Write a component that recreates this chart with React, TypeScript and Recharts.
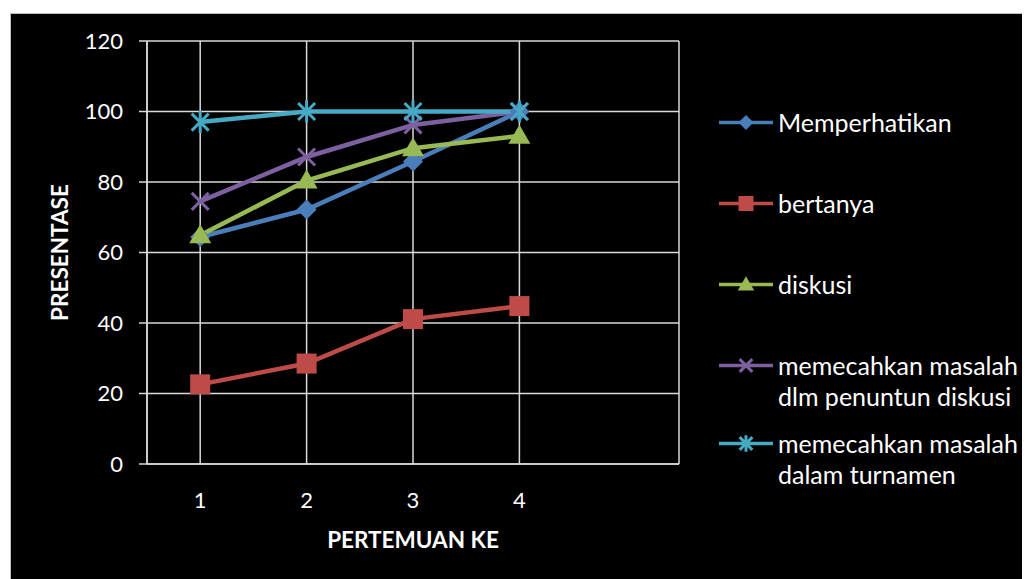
import React from "react";
import {
  LineChart,
  Line,
  XAxis,
  YAxis,
  CartesianGrid,
  Label,
} from "recharts";

// Data
const pertemuan = [1, 2, 3, 4];
const memperhatikan = [64.4, 72.2, 85.8, 100];
const bertanya = [22.6, 28.5, 41.1, 44.8];
const diskusi = [64.9, 80.4, 89.6, 93.1];
const memecahkanDiskusi = [74.5, 87.1, 96.2, 100];
const memecahkanTurnamen = [97, 100, 100, 100];
const yTicks = [0, 20, 40, 60, 80, 100, 120];

const series = [
  { key: "memperhatikan", name: ["Memperhatikan"], values: memperhatikan, color: "#4A7EBB", marker: "diamond" },
  { key: "bertanya", name: ["bertanya"], values: bertanya, color: "#BE4B48", marker: "square" },
  { key: "diskusi", name: ["diskusi"], values: diskusi, color: "#98B954", marker: "triangle" },
  { key: "memecahkanDiskusi", name: ["memecahkan masalah", "dlm penuntun diskusi"], values: memecahkanDiskusi, color: "#7D60A0", marker: "x" },
  { key: "memecahkanTurnamen", name: ["memecahkan masalah", "dalam turnamen"], values: memecahkanTurnamen, color: "#46AAC5", marker: "star" },
];

const data = pertemuan.map((p, i) => {
  const row: Record<string, number> = { x: p };
  series.forEach((s) => (row[s.key] = s.values[i]));
  return row;
});

const FONT = "Lato, 'Open Sans', sans-serif";
const GRID = "#d9d9d9";

function Marker({ cx, cy, type, color, size = 10 }: any) {
  const r = size;
  if (cx == null || cy == null) return null;
  switch (type) {
    case "diamond":
      return (
        <polygon
          points={`${cx},${cy - r} ${cx + r},${cy} ${cx},${cy + r} ${cx - r},${cy}`}
          fill={color}
        />
      );
    case "square":
      return <rect x={cx - r} y={cy - r} width={r * 2} height={r * 2} fill={color} />;
    case "triangle":
      return (
        <polygon
          points={`${cx},${cy - r * 1.1} ${cx + r * 1.1},${cy + r * 0.8} ${cx - r * 1.1},${cy + r * 0.8}`}
          fill={color}
        />
      );
    case "x":
      return (
        <g stroke={color} strokeWidth={3}>
          <line x1={cx - r * 0.85} y1={cy - r * 0.85} x2={cx + r * 0.85} y2={cy + r * 0.85} />
          <line x1={cx - r * 0.85} y1={cy + r * 0.85} x2={cx + r * 0.85} y2={cy - r * 0.85} />
        </g>
      );
    default:
      return (
        <g stroke={color} strokeWidth={3}>
          <line x1={cx - r * 0.85} y1={cy - r * 0.85} x2={cx + r * 0.85} y2={cy + r * 0.85} />
          <line x1={cx - r * 0.85} y1={cy + r * 0.85} x2={cx + r * 0.85} y2={cy - r * 0.85} />
          <line x1={cx} y1={cy - r * 1.1} x2={cx} y2={cy + r * 1.1} />
        </g>
      );
  }
}

// vertical offsets of legend entries inside the black box
const legendTops = [93, 174, 255, 336, 414];

export default function App() {
  return (
    <div style={{ position: "relative", width: 1030, height: 579, margin: "-8px 0 0 -8px", background: "#fff", overflow: "hidden" }}>
      <div style={{ position: "absolute", left: 1, top: -20, fontFamily: "'Liberation Serif', serif", fontSize: 30, lineHeight: 1, color: "#000" }}>
        ini.
      </div>
      <div
        style={{
          position: "absolute",
          left: 10,
          top: 13,
          width: 1020,
          height: 566,
          background: "#000",
          borderLeft: "1px solid #bfbfbf",
          borderTop: "1px solid #bfbfbf",
          boxSizing: "border-box",
        }}
      >
        <LineChart
          width={1019}
          height={565}
          data={data}
          margin={{ top: 28, right: 350, left: 0, bottom: 0 }}
          style={{ position: "absolute", left: -1, top: -1 }}
        >
          <CartesianGrid stroke={GRID} strokeWidth={1.5} />
          <XAxis
            dataKey="x"
            type="number"
            domain={[0.5, 5.5]}
            ticks={pertemuan}
            height={114}
            tickLine={false}
            tickSize={0}
            tickMargin={28}
            axisLine={{ stroke: GRID, strokeWidth: 1.5 }}
            tick={{ fill: "#fff", fontSize: 22, fontFamily: FONT }}
          >
            <Label
              content={({ viewBox }: any) => (
                <text
                  x={137 + 532 / 2}
                  y={viewBox.y + 84}
                  textAnchor="middle"
                  fill="#fff"
                  fontSize={22.5}
                  fontWeight="bold"
                  fontFamily={FONT}
                >
                  PERTEMUAN KE
                </text>
              )}
            />
          </XAxis>
          <YAxis
            domain={[0, 120]}
            ticks={yTicks}
            width={137}
            tickSize={8}
            tickMargin={16}
            interval={0}
            stroke={GRID}
            strokeWidth={1.5}
            tick={{ fill: "#fff", fontSize: 22, fontFamily: FONT }}
          >
            <Label
              content={({ viewBox }: any) => {
                const cx = 49;
                const cy = viewBox.y + viewBox.height / 2;
                return (
                  <text
                    x={cx}
                    y={cy}
                    transform={`rotate(-90 ${cx} ${cy})`}
                    textAnchor="middle"
                    dominantBaseline="central"
                    fill="#fff"
                    fontSize={22.5}
                    fontWeight="bold"
                    fontFamily={FONT}
                  >
                    PRESENTASE
                  </text>
                );
              }}
            />
          </YAxis>
          {series.map((s) => (
            <Line
              key={s.key}
              dataKey={s.key}
              name={s.name.join(" ")}
              stroke={s.color}
              strokeWidth={4.5}
              isAnimationActive={false}
              dot={(p: any) => (
                <Marker key={`${s.key}-${p.index}`} cx={p.cx} cy={p.cy} type={s.marker} color={s.color} />
              )}
              activeDot={false}
            />
          ))}
        </LineChart>
        {series.map((s, i) => (
          <div
            key={s.key}
            style={{
              position: "absolute",
              left: 707,
              top: legendTops[i],
              display: "flex",
              alignItems: "flex-start",
              fontFamily: FONT,
              fontSize: 25,
              lineHeight: "31px",
              color: "#fff",
            }}
          >
            <svg width={56} height={31} style={{ marginRight: 4, flex: "none" }}>
              <line x1={1} y1={15.5} x2={55} y2={15.5} stroke={s.color} strokeWidth={3.5} />
              <Marker cx={28} cy={15.5} type={s.marker} color={s.color} size={7.5} />
            </svg>
            <div>
              {s.name.map((n) => (
                <div key={n} style={{ whiteSpace: "nowrap" }}>
                  {n}
                </div>
              ))}
            </div>
          </div>
        ))}
      </div>
    </div>
  );
}
